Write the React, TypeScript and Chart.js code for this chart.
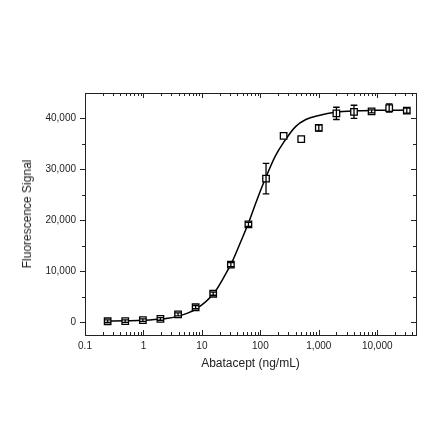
import React, { useEffect, useRef } from "react";
import { Chart, registerables } from "chart.js";

Chart.register(...registerables);

// Measured data (Abatacept ng/mL vs fluorescence signal)
const concentrations = [0.244, 0.488, 0.977, 1.95, 3.91, 7.81, 15.6, 31.3, 62.5, 125, 250, 500, 1000, 2000, 4000, 8000, 16000, 32000];
const signals = [200, 220, 420, 650, 1550, 2950, 5600, 11300, 19200, 28200, 36600, 35950, 38150, 41000, 41300, 41400, 42050, 41550];
const errorsSd = [250, 250, 250, 250, 300, 300, 300, 400, 400, 3000, 0, 0, 600, 1200, 1300, 300, 800, 500];

// Fitted curve
const fitX = [0.24, 0.5, 1, 2, 4, 8, 16, 25, 32, 45, 62.5, 90, 125, 180, 250, 400, 600, 1000, 2000, 4000, 10000, 35000];
const fitY = [230, 290, 380, 620, 1200, 2620, 5680, 9300, 11550, 15500, 19500, 24400, 28500, 32600, 35300, 38400, 39800, 40600, 41250, 41500, 41600, 41650];

const xTickValues = [0.1, 1, 10, 100, 1000, 10000];
const xTickLabels = ["0.1", "1", "10", "100", "1,000", "10,000"];
const xMinorMultipliers = [2, 3, 4, 5, 6, 7, 8, 9];
const yTickValues = [0, 10000, 20000, 30000, 40000];
const yTickLabels = ["0", "10,000", "20,000", "30,000", "40,000"];
const yMinorTickValues = [5000, 15000, 25000, 35000];

const xTitle = "Abatacept (ng/mL)";
const yTitle = "Fluorescence Signal";

const X_MIN = 0.1;
const X_MAX = 46000;
const Y_MIN = -2500;
const Y_MAX = 45000;

const FONT = "'Liberation Sans', Arial, sans-serif";
const AXIS_COLOR = "#222";
const TEXT_COLOR = "#222";

const framePlugin = {
  id: "frame",
  afterDraw(chart: any) {
    const { ctx, chartArea } = chart;
    const { left, right, top, bottom } = chartArea;
    const xs = chart.scales.x;
    const ys = chart.scales.y;
    ctx.save();
    ctx.strokeStyle = AXIS_COLOR;
    ctx.lineWidth = 1;
    ctx.beginPath();
    const xTick = (v: number, len: number) => {
      const px = Math.round(xs.getPixelForValue(v)) + 0.5;
      ctx.moveTo(px, bottom);
      ctx.lineTo(px, bottom - len);
      ctx.moveTo(px, top);
      ctx.lineTo(px, top + len);
    };
    xTickValues.forEach((v) => xTick(v, 5));
    xTickValues.forEach((d) => {
      xMinorMultipliers.forEach((m) => {
        const v = d * m;
        if (v < X_MAX) xTick(v, 3);
      });
    });
    const yTick = (v: number, len: number) => {
      const py = Math.round(ys.getPixelForValue(v)) + 0.5;
      ctx.moveTo(left, py);
      ctx.lineTo(left - len, py);
      ctx.moveTo(right, py);
      ctx.lineTo(right - len, py);
    };
    yTickValues.forEach((v) => yTick(v, 5));
    yMinorTickValues.forEach((v) => yTick(v, 3));
    ctx.stroke();
    ctx.strokeRect(Math.round(left) + 0.5, Math.round(top) + 0.5, Math.round(right - left), Math.round(bottom - top));
    ctx.restore();
  },
};

const errorBarPlugin = {
  id: "errorBars",
  afterDatasetsDraw(chart: any) {
    const { ctx } = chart;
    const ys = chart.scales.y;
    const meta = chart.getDatasetMeta(1);
    ctx.save();
    ctx.strokeStyle = "#000";
    ctx.lineWidth = 1.3;
    ctx.beginPath();
    meta.data.forEach((pt: any, i: number) => {
      const e = errorsSd[i];
      if (!e) return;
      const px = pt.x;
      const yHi = ys.getPixelForValue(signals[i] + e);
      const yLo = ys.getPixelForValue(signals[i] - e);
      const cap = 3.3;
      ctx.moveTo(px, yHi);
      ctx.lineTo(px, yLo);
      ctx.moveTo(px - cap, yHi);
      ctx.lineTo(px + cap, yHi);
      ctx.moveTo(px - cap, yLo);
      ctx.lineTo(px + cap, yLo);
    });
    ctx.stroke();
    ctx.restore();
  },
};

export default function App() {
  const canvasRef = useRef<HTMLCanvasElement | null>(null);

  useEffect(() => {
    if (!canvasRef.current) return;
    Chart.defaults.font.family = FONT;
    const chart = new Chart(canvasRef.current, {
      type: "scatter",
      data: {
        datasets: [
          {
            type: "line",
            label: "fit",
            data: fitX.map((x, i) => ({ x, y: fitY[i] })),
            borderColor: "#000",
            borderWidth: 1.5,
            pointRadius: 0,
            fill: false,
            cubicInterpolationMode: "monotone",
            order: 2,
          } as any,
          {
            type: "scatter",
            label: "data",
            data: concentrations.map((x, i) => ({ x, y: signals[i] })),
            pointStyle: "rect",
            pointRadius: 4.6,
            pointBackgroundColor: "#fff",
            pointBorderColor: "#000",
            pointBorderWidth: 1.3,
            order: 1,
          } as any,
        ],
      },
      options: {
        animation: false,
        responsive: false,
        events: [],
        layout: { padding: { left: 0, right: 24, top: 93, bottom: 66 } },
        plugins: { legend: { display: false }, tooltip: { enabled: false } },
        scales: {
          x: {
            type: "logarithmic",
            min: X_MIN,
            max: X_MAX,
            grid: { display: false, drawTicks: false },
            border: { display: false },
            afterFit: (s: any) => {
              s.height = 40;
            },
            afterBuildTicks: (s: any) => {
              s.ticks = xTickValues.map((v) => ({ value: v }));
            },
            ticks: {
              autoSkip: false,
              maxRotation: 0,
              padding: 5,
              color: TEXT_COLOR,
              font: { size: 10, family: FONT },
              callback: (v: any) => {
                const i = xTickValues.indexOf(Number(v));
                return i >= 0 ? xTickLabels[i] : "";
              },
            },
            title: {
              display: true,
              text: xTitle,
              color: TEXT_COLOR,
              font: { size: 12, family: FONT },
              padding: { top: 0, bottom: 4 },
            },
          },
          y: {
            type: "linear",
            min: Y_MIN,
            max: Y_MAX,
            grid: { display: false, drawTicks: false },
            border: { display: false },
            afterFit: (s: any) => {
              s.width = 85;
            },
            afterBuildTicks: (s: any) => {
              s.ticks = yTickValues.map((v) => ({ value: v }));
            },
            ticks: {
              padding: 9,
              color: TEXT_COLOR,
              font: { size: 10, family: FONT },
              callback: (v: any) => {
                const i = yTickValues.indexOf(Number(v));
                return i >= 0 ? yTickLabels[i] : "";
              },
            },
            title: { display: false },
          },
        },
      } as any,
      plugins: [framePlugin, errorBarPlugin],
    });
    return () => chart.destroy();
  }, []);

  return (
    <div style={{ position: "fixed", left: 0, top: 0, width: 440, height: 441, background: "#fff" }}>
      <canvas ref={canvasRef} width={440} height={441} style={{ width: 440, height: 441, display: "block" }} />
      <div
        style={{
          position: "absolute",
          left: 27,
          top: 214,
          transform: "translate(-50%, -50%) rotate(-90deg)",
          whiteSpace: "nowrap",
          font: "12px " + FONT,
          color: TEXT_COLOR,
          lineHeight: "14px",
        }}
      >
        {yTitle}
      </div>
    </div>
  );
}
